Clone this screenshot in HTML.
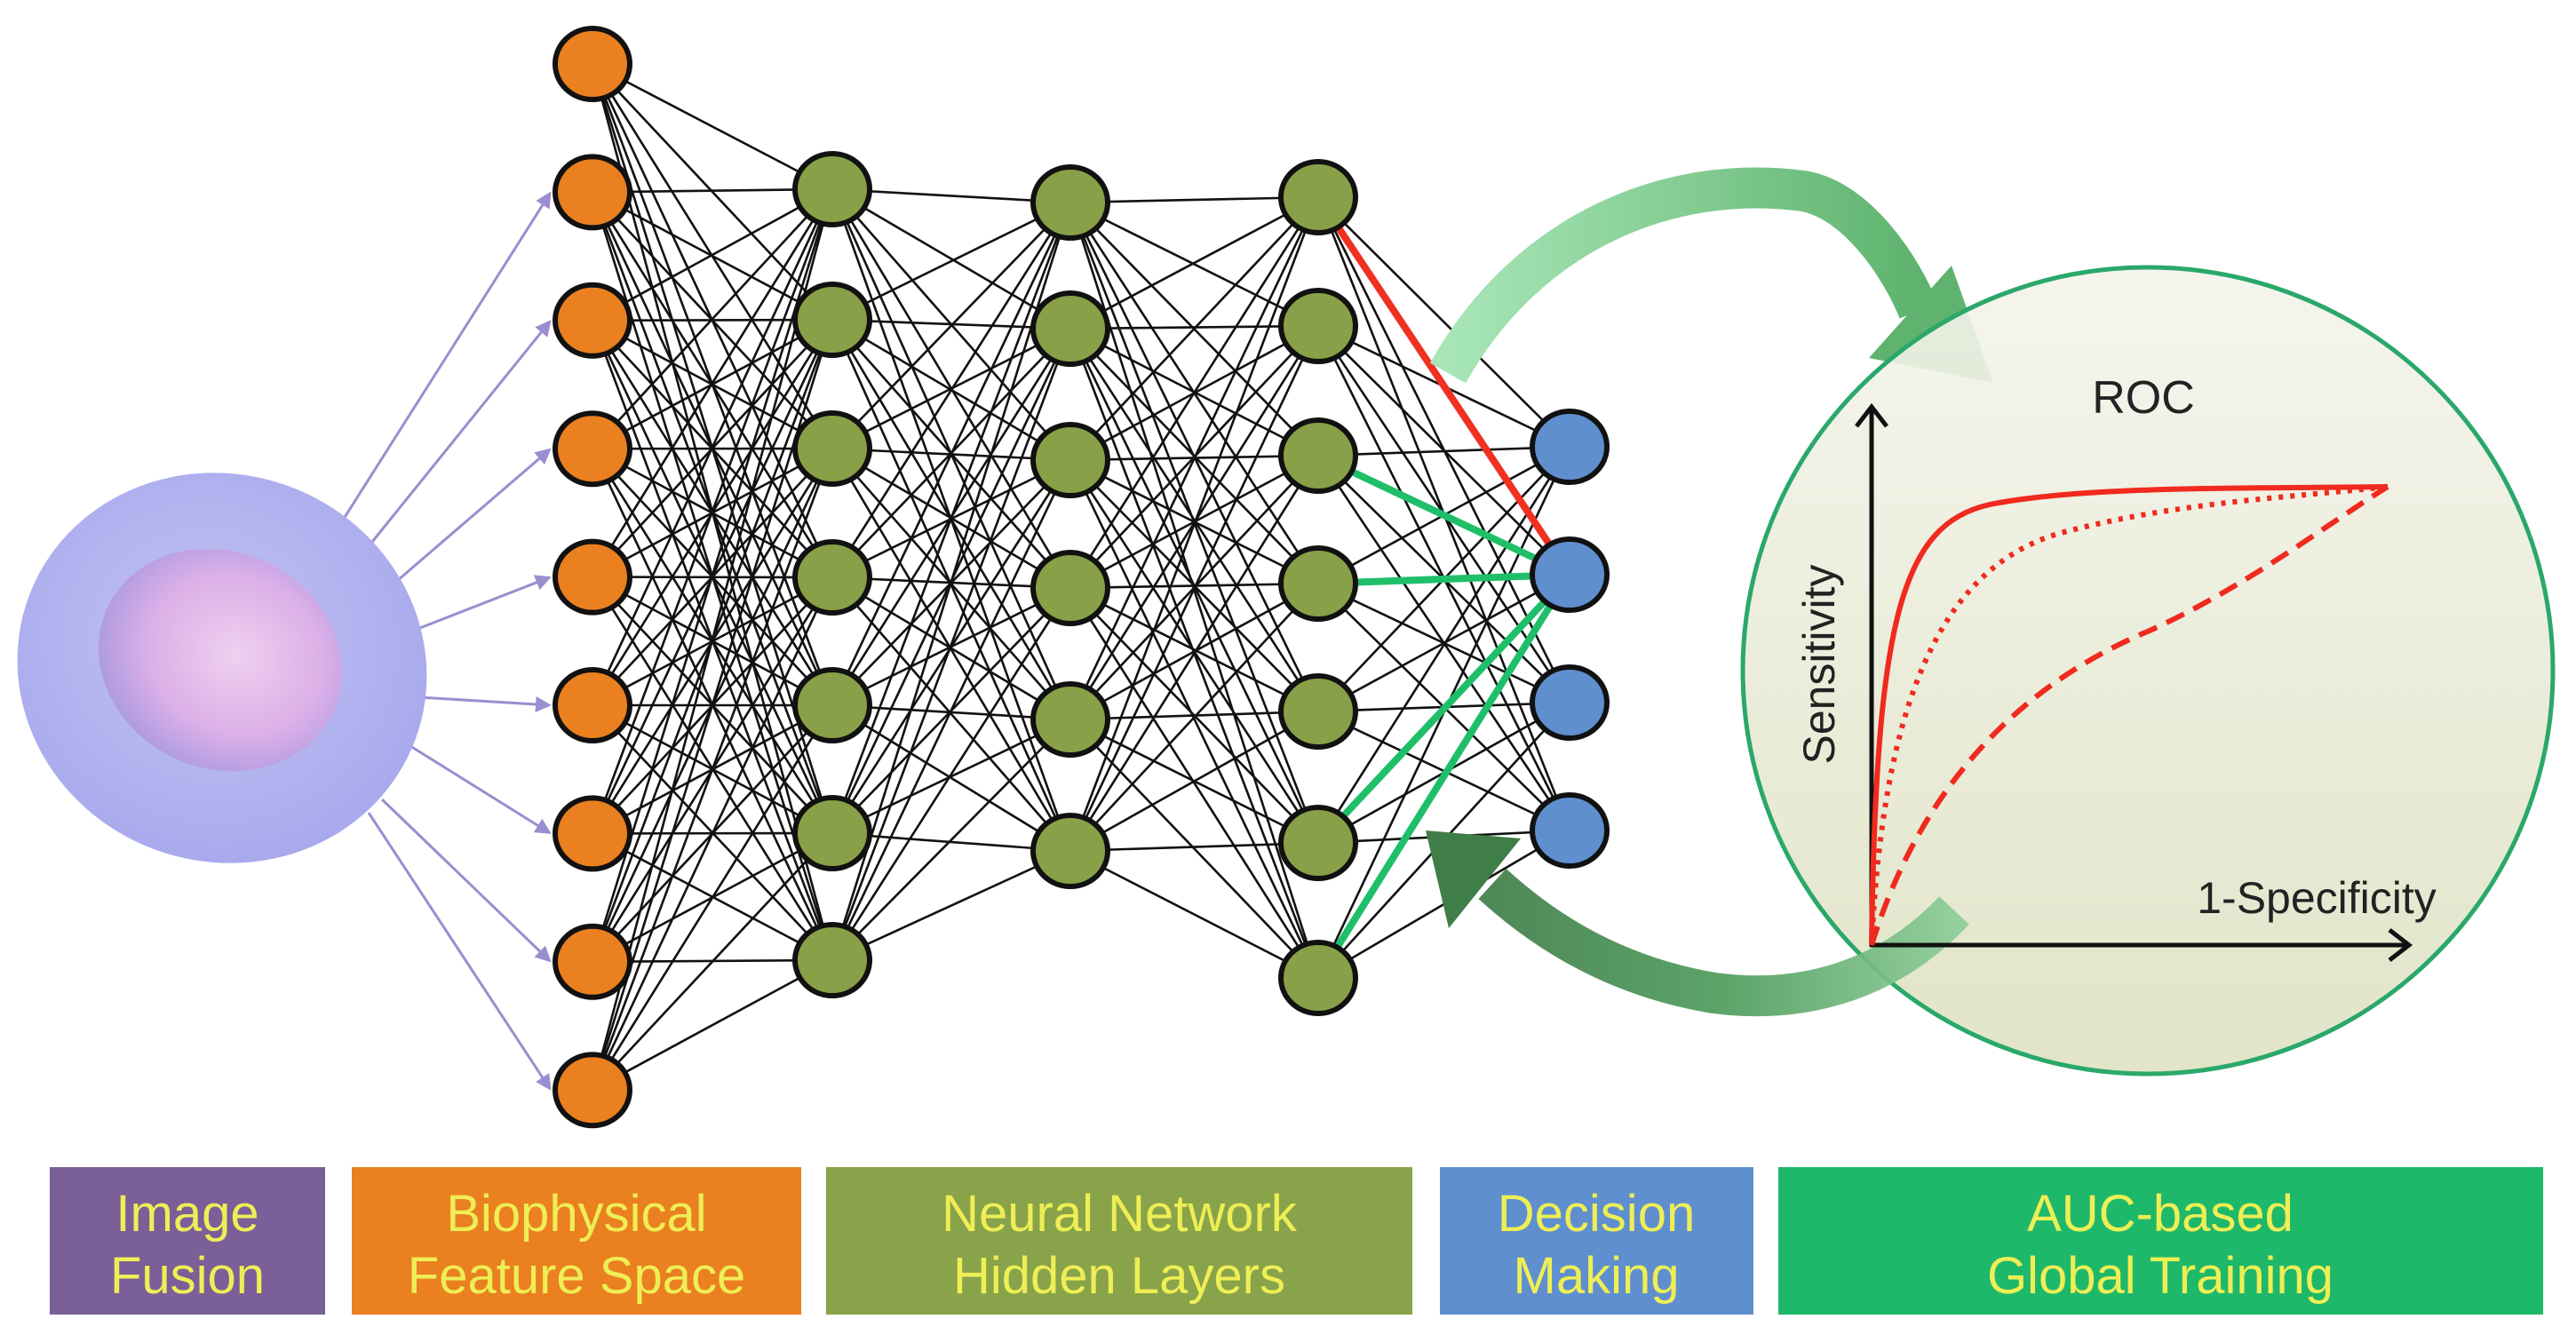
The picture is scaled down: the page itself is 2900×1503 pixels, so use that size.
<!DOCTYPE html>
<html><head><meta charset="utf-8">
<style>
html,body{margin:0;padding:0;background:#fff;}
svg{display:block;}
text{font-family:"Liberation Sans",sans-serif;}
</style></head>
<body>
<svg id="s" width="2900" height="1503" viewBox="0 0 2900 1503" xmlns="http://www.w3.org/2000/svg">
<defs>
<radialGradient id="cell" cx="0.45" cy="0.45" r="0.6">
<stop offset="0" stop-color="#c4c4f4"/><stop offset="1" stop-color="#a6a8ec"/></radialGradient>
<radialGradient id="nuc" cx="0.55" cy="0.45" r="0.6">
<stop offset="0" stop-color="#f0d0f0"/><stop offset="0.6" stop-color="#dcb0e8"/><stop offset="1" stop-color="#a898e0"/></radialGradient>
<linearGradient id="roc" x1="0" y1="0" x2="0" y2="1">
<stop offset="0" stop-color="#f4f4ec"/><stop offset="1" stop-color="#dee2c2"/></linearGradient>
<linearGradient id="topArc" x1="0" y1="0" x2="1" y2="0">
<stop offset="0" stop-color="#a8e6b8"/><stop offset="1" stop-color="#5fb36e"/></linearGradient>
<linearGradient id="botArc" x1="1" y1="0" x2="0" y2="0">
<stop offset="0" stop-color="#8ccc98"/><stop offset="0.5" stop-color="#4e9c5c"/><stop offset="1" stop-color="#3f7e48"/></linearGradient>
<marker id="pa" markerWidth="6" markerHeight="6" refX="5" refY="3" orient="auto" markerUnits="strokeWidth">
<path d="M0,0 L6,3 L0,6 z" fill="#9a8ed0"/></marker>
</defs>
<g id="lines" stroke="#111" stroke-width="2.6"></g>
<g id="arrows" stroke="#9a8ed0" stroke-width="3" fill="none"></g>
<!-- cell -->
<ellipse cx="250" cy="752" rx="232" ry="218" fill="url(#cell)" transform="rotate(20 250 752)"/>
<ellipse cx="248" cy="743" rx="140" ry="122" fill="url(#nuc)" transform="rotate(25 248 743)"/>
<!-- top green arc -->
<path d="M1630,420 C1720,260 1880,195 2030,215 C2090,225 2140,300 2160,350" stroke="url(#topArc)" stroke-width="46" fill="none"/>
<polygon points="2197,299 2244,431 2104,403" fill="#5fb36e"/>
<!-- ROC circle -->
<ellipse cx="2418" cy="755" rx="456" ry="454" fill="url(#roc)" fill-opacity="0.9" stroke="#2aa86a" stroke-width="5"/>
<!-- bottom arc -->
<path d="M2200,1025 C2120,1110 2020,1130 1930,1118 C1820,1100 1740,1050 1680,995" stroke="url(#botArc)" stroke-width="46" fill="none" opacity="0.92"/>
<polygon points="1605,935 1712,944 1631,1045" fill="#3f7e48"/>
<g id="nodes" stroke="#111" stroke-width="6"></g>
<!-- ROC plot -->
<line x1="2107" y1="1066" x2="2107" y2="462" stroke="#111" stroke-width="5"/>
<polyline points="2090,480 2107,458 2124,480" stroke="#111" stroke-width="5" fill="none"/>
<line x1="2105" y1="1064" x2="2712" y2="1064" stroke="#111" stroke-width="5"/>
<polyline points="2690,1047 2712,1064 2690,1081" stroke="#111" stroke-width="5" fill="none"/>
<path d="M2107,1064 C2112,700 2140,590 2240,568 C2340,548 2500,550 2688,548" stroke="#f02a1e" stroke-width="6" fill="none"/>
<path d="M2107,1064 C2120,800 2180,640 2320,600 C2450,565 2580,560 2688,548" stroke="#f02a1e" stroke-width="6" fill="none" stroke-dasharray="5,8"/>
<path d="M2107,1064 C2170,860 2300,760 2420,710 C2530,660 2620,590 2688,548" stroke="#f02a1e" stroke-width="6" fill="none" stroke-dasharray="22,12"/>
<text x="2413" y="465" font-size="52" text-anchor="middle" fill="#222">ROC</text>
<text x="0" y="0" font-size="50" text-anchor="middle" fill="#222" transform="translate(2065,748) rotate(-90)">Sensitivity</text>
<text x="2608" y="1028" font-size="50" text-anchor="middle" fill="#222">1-Specificity</text>
<!-- label boxes -->
<g font-size="58" fill="#eeee55" text-anchor="middle">
<rect x="56" y="1314" width="310" height="166" fill="#7a5f98"/>
<text x="211" y="1386">Image</text><text x="211" y="1456">Fusion</text>
<rect x="396" y="1314" width="506" height="166" fill="#ea8020"/>
<text x="649" y="1386">Biophysical</text><text x="649" y="1456">Feature Space</text>
<rect x="930" y="1314" width="660" height="166" fill="#89a34a"/>
<text x="1260" y="1386">Neural Network</text><text x="1260" y="1456">Hidden Layers</text>
<rect x="1621" y="1314" width="353" height="166" fill="#5f8fcf"/>
<text x="1797" y="1386">Decision</text><text x="1797" y="1456">Making</text>
<rect x="2002" y="1314" width="861" height="166" fill="#1eb86a"/>
<text x="2432" y="1386">AUC-based</text><text x="2432" y="1456">Global Training</text>
</g>
</svg>
<script>
var NS="http://www.w3.org/2000/svg";
function ys(a,n,s){var r=[];for(var i=0;i<n;i++)r.push(a+i*s);return r;}
var layers=[
 {x:667,y:ys(72,9,144.4),c:"#ea8020"},
 {x:937,y:[213,360,505,650,794,938,1081],c:"#88a047"},
 {x:1205,y:[228,370,518,662,810,958],c:"#88a047"},
 {x:1484,y:[222,367,513,657,801,949,1101],c:"#88a047"},
 {x:1767,y:[503,647,791,935],c:"#5f8fcf"}];
var L=document.getElementById("lines"),N=document.getElementById("nodes"),A=document.getElementById("arrows");
function ln(g,x1,y1,x2,y2,attrs){var e=document.createElementNS(NS,"line");e.setAttribute("x1",x1);e.setAttribute("y1",y1);e.setAttribute("x2",x2);e.setAttribute("y2",y2);for(var k in attrs)e.setAttribute(k,attrs[k]);g.appendChild(e);return e;}
for(var l=0;l<4;l++){var a=layers[l],b=layers[l+1];
 a.y.forEach(function(y1){b.y.forEach(function(y2){ln(L,a.x,y1,b.x,y2,{});});});}
var l3=layers[3],bl=layers[4];
ln(L,l3.x,l3.y[0],bl.x,bl.y[1],{stroke:"#f03020","stroke-width":"8"});
[2,3,5,6].forEach(function(i){ln(L,l3.x,l3.y[i],bl.x,bl.y[1],{stroke:"#1fbf6a","stroke-width":"8"});});
layers.forEach(function(a){a.y.forEach(function(y){var e=document.createElementNS(NS,"ellipse");e.setAttribute("cx",a.x);e.setAttribute("cy",y);e.setAttribute("rx",42);e.setAttribute("ry",40);e.setAttribute("fill",a.c);N.appendChild(e);});});
var st=[[380,595],[415,615],[440,660],[465,710],[472,785],[462,840],[430,900],[415,915]];
for(var i=1;i<9;i++){var s=st[i-1];var ty=layers[0].y[i],tx=620;
 var dx=tx-s[0],dy=ty-s[1],d=Math.sqrt(dx*dx+dy*dy);
 ln(A,s[0],s[1],tx-dx/d*2,ty-dy/d*2,{"marker-end":"url(#pa)"});}
</script>
</body></html>
